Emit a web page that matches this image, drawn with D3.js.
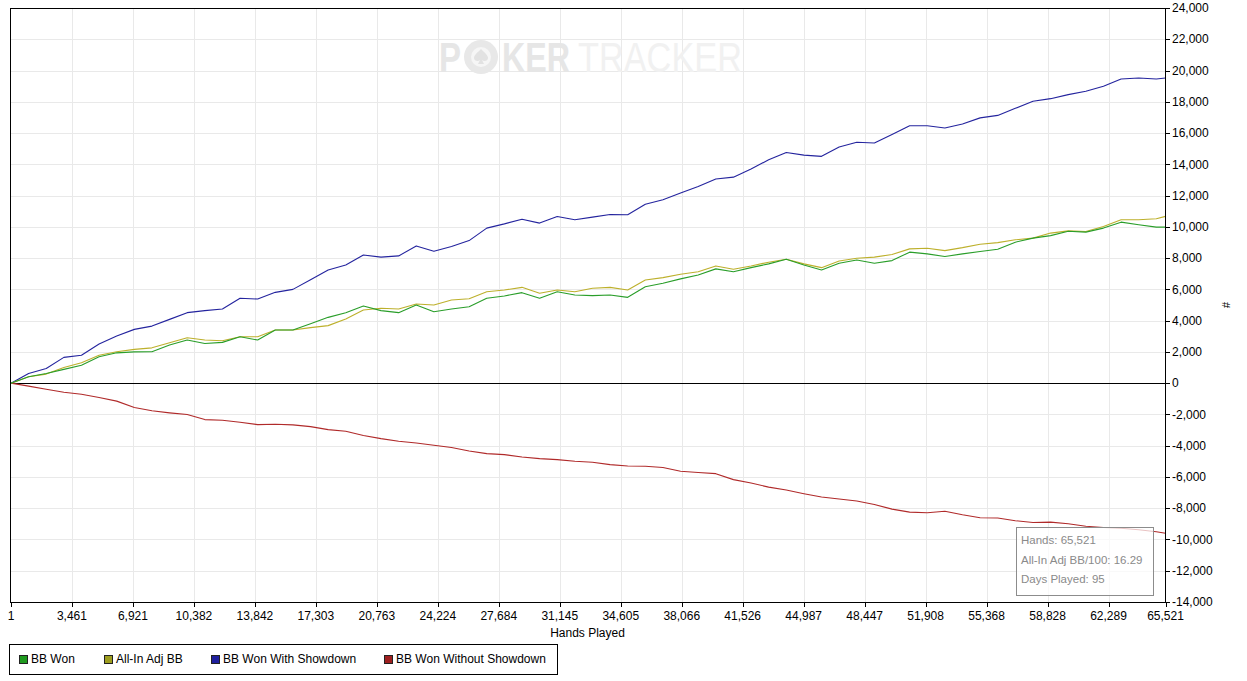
<!DOCTYPE html>
<html>
<head>
<meta charset="utf-8">
<script src="https://cdn.jsdelivr.net/npm/d3@7"></script>
<style>
  html, body { margin: 0; padding: 0; background: #ffffff; }
  svg { display: block; }
  text { font-family: "Liberation Sans", Arial, sans-serif; }
</style>
</head>
<body>
<svg id="chart" width="1247" height="681"></svg>
<script>
// ---------------- DATA ----------------
const hands = [1,1000,2000,3000,4000,5000,6000,7000,8000,9000,10000,11000,12000,13000,14000,15000,16000,17000,18000,19000,
  20000,21000,22000,23000,24000,25000,26000,27000,28000,29000,30000,31000,32000,33000,34000,35000,36000,37000,38000,39000,
  40000,41000,42000,43000,44000,45000,46000,47000,48000,49000,50000,51000,52000,53000,54000,55000,56000,57000,58000,59000,
  60000,61000,62000,63000,64000,65000,65521];

const bbWon = [0,410,620,880,1150,1690,1940,2000,2010,2440,2760,2540,2610,2970,2760,3400,3400,3800,4210,4510,
  4940,4640,4510,5000,4570,4740,4890,5430,5580,5790,5430,5850,5640,5600,5640,5490,6170,6390,6670,6920,
  7310,7130,7390,7630,7930,7560,7240,7670,7880,7670,7840,8380,8270,8100,8270,8420,8570,9020,9280,9440,
  9720,9660,9920,10300,10130,9980,9980];

const allInAdjBB = [0,410,580,1000,1300,1790,2010,2160,2260,2580,2900,2760,2710,2970,2970,3400,3400,3550,3680,4100,
  4680,4790,4740,5060,5000,5320,5400,5850,5960,6130,5750,5960,5850,6070,6130,5960,6600,6750,6970,7130,
  7500,7290,7500,7740,7930,7630,7390,7820,7990,8060,8230,8590,8630,8480,8670,8890,8990,9170,9280,9600,
  9740,9700,10020,10450,10450,10520,10670];

const bbWonShowdown = [0,620,940,1650,1790,2500,3010,3440,3650,4080,4510,4640,4740,5430,5380,5810,6000,6620,7240,7560,
  8200,8060,8140,8780,8440,8740,9120,9920,10190,10490,10240,10660,10450,10620,10790,10770,11450,11730,12160,12580,
  13060,13180,13700,14290,14760,14590,14510,15110,15410,15360,15900,16470,16470,16320,16580,16970,17130,17580,18030,18200,
  18460,18670,18990,19460,19520,19460,19520];

const bbWonNoShowdown = [0,-190,-385,-580,-705,-920,-1150,-1560,-1770,-1900,-2010,-2330,-2370,-2500,-2650,-2630,-2670,-2780,-2970,-3080,
  -3350,-3550,-3720,-3830,-3970,-4120,-4340,-4510,-4570,-4720,-4830,-4890,-5000,-5060,-5210,-5300,-5320,-5400,-5640,-5720,
  -5790,-6170,-6390,-6650,-6840,-7070,-7280,-7410,-7540,-7760,-8060,-8250,-8290,-8190,-8420,-8610,-8630,-8800,-8910,-8890,
  -8990,-9150,-9230,-9280,-9380,-9510,-9600];

const xTicks = [1,3461,6921,10382,13842,17303,20763,24224,27684,31145,34605,38066,41526,44987,48447,51908,55368,58828,62289,65521];
const yTicks = [-14000,-12000,-10000,-8000,-6000,-4000,-2000,0,2000,4000,6000,8000,10000,12000,14000,16000,18000,20000,22000,24000];

const seriesNames = ["BB Won","All-In Adj BB","BB Won With Showdown","BB Won Without Showdown"];
const lineColors = ["#2a9e2a","#bdb02c","#24249e","#b02a2a"];
const legendColors = ["#1f9a1f","#9e9e1f","#1f1f9e","#9e1f1f"];

const infoLines = ["Hands: 65,521","All-In Adj BB/100: 16.29","Days Played: 95"];
const xTitle = "Hands Played";
const yTitle = "#";
const watermarkParts = ["P","KER","TRACKER"];

// ---------------- CHART ----------------
(function () {
const svg = d3.select("#chart");
const fmt = d3.formatLocale({decimal: ".", thousands: ",", grouping: [3], currency: ["", ""], minus: "-"}).format(",");

const pL = 10, pR = 1165, pT = 8, pB = 602;
const x = d3.scaleLinear().domain([1, 65521]).range([11, 1165.5]);
const y = d3.scaleLinear().domain([-14000, 24000]).range([602, 8]);
const px = v => Math.round(v) + 0.5;

// gridlines
const grid = svg.append("g");
grid.selectAll("line.v").data(xTicks.slice(1, -1)).join("line")
  .attr("x1", d => px(x(d))).attr("x2", d => px(x(d)))
  .attr("y1", pT).attr("y2", pB)
  .attr("stroke", "#e9e9e9").attr("stroke-width", 1);
grid.selectAll("line.h").data(yTicks.filter(d => d !== 0)).join("line")
  .attr("x1", pL).attr("x2", pR)
  .attr("y1", d => px(y(d))).attr("y2", d => px(y(d)))
  .attr("stroke", "#e9e9e9").attr("stroke-width", 1);

// watermark: each piece scaled horizontally to its measured width
const wm = svg.append("g");
wm.append("circle").attr("cx", 481).attr("cy", 57).attr("r", 17).attr("fill", "#e8e8e8");
wm.append("circle").attr("cx", 481).attr("cy", 57).attr("r", 10).attr("fill", "#f6f6f6");
wm.append("path")
  .attr("d", "M481,49 C477,53 474,55 474,58 C474,61 478,62 480,60 L478,64 L484,64 L482,60 C484,62 488,61 488,58 C488,55 485,53 481,49 Z")
  .attr("fill", "#e2e2e2");
const wmSpec = [
  {x: 439, w: 22, bold: true, fill: "#e6e6e6"},
  {x: 502, w: 68, bold: true, fill: "#e6e6e6"},
  {x: 578, w: 164, bold: false, fill: "#f1f1f1"}
];
watermarkParts.forEach((t, i) => {
  const s = wmSpec[i];
  const el = wm.append("text").attr("x", 0).attr("y", 0).attr("font-size", 42)
    .attr("font-weight", s.bold ? "bold" : "normal").attr("fill", s.fill).text(t);
  const natural = el.node().getComputedTextLength();
  el.attr("transform", `translate(${s.x},72) scale(${s.w / natural},1)`);
});

// zero line
svg.append("line").attr("x1", pL).attr("x2", pR)
  .attr("y1", px(y(0))).attr("y2", px(y(0)))
  .attr("stroke", "#000").attr("stroke-width", 1);

// series lines
const line = d3.line().x((d, i) => x(hands[i])).y(d => y(d));
const allSeries = [bbWonNoShowdown, bbWonShowdown, allInAdjBB, bbWon];
const allColors = [lineColors[3], lineColors[2], lineColors[1], lineColors[0]];
allSeries.forEach((s, k) => {
  svg.append("path").datum(s).attr("d", line)
    .attr("fill", "none").attr("stroke", allColors[k]).attr("stroke-width", 1.1)
    .attr("stroke-linejoin", "round");
});

// frame
svg.append("rect").attr("x", pL + 0.5).attr("y", pT + 0.5)
  .attr("width", pR - pL).attr("height", pB - pT)
  .attr("fill", "none").attr("stroke", "#000").attr("stroke-width", 1);

// right axis
const ya = svg.append("g");
ya.selectAll("line").data(yTicks).join("line")
  .attr("x1", pR).attr("x2", pR + 5)
  .attr("y1", d => px(y(d))).attr("y2", d => px(y(d)))
  .attr("stroke", "#000");
ya.selectAll("text").data(yTicks).join("text")
  .attr("x", pR + 7).attr("y", d => y(d)).attr("dy", "0.35em")
  .attr("font-size", 12).attr("fill", "#000").text(d => fmt(d));
svg.append("text").attr("transform", "translate(1226,305) rotate(90)")
  .attr("text-anchor", "middle").attr("dy", "0.35em").attr("font-size", 11).text(yTitle);

// bottom axis
const xa = svg.append("g");
xa.selectAll("line").data(xTicks).join("line")
  .attr("x1", d => px(x(d))).attr("x2", d => px(x(d)))
  .attr("y1", pB).attr("y2", pB + 5)
  .attr("stroke", "#000");
xa.selectAll("text").data(xTicks).join("text")
  .attr("x", d => x(d)).attr("y", 619.5).attr("text-anchor", "middle")
  .attr("font-size", 12).attr("fill", "#000").text(d => fmt(d));
svg.append("text").attr("x", (pL + pR) / 2).attr("y", 637)
  .attr("text-anchor", "middle").attr("font-size", 12).text(xTitle);

// info box
const ib = svg.append("g");
ib.append("rect").attr("x", 1016.5).attr("y", 527.5).attr("width", 137).attr("height", 68)
  .attr("fill", "rgba(255,255,255,0.72)").attr("stroke", "#8c8c8c").attr("stroke-width", 1);
ib.selectAll("text").data(infoLines).join("text")
  .attr("x", 1021).attr("y", (d, i) => 544 + i * 19.7)
  .attr("font-family", "'Noto Sans', 'Open Sans', sans-serif")
  .attr("font-size", 11.5).attr("fill", "#8a8a8a").text(d => d);

// legend
const lg = svg.append("g");
lg.append("rect").attr("x", 9.5).attr("y", 644.5).attr("width", 548).attr("height", 30)
  .attr("fill", "#fff").attr("stroke", "#000").attr("stroke-width", 1);
const legendX = [19, 104, 211, 384];
const items = lg.selectAll("g.item").data(seriesNames).join("g")
  .attr("transform", (d, i) => `translate(${legendX[i]},659)`);
items.append("rect").attr("x", 0.5).attr("y", -3.5).attr("width", 8).attr("height", 8)
  .attr("fill", (d, i) => legendColors[i]).attr("stroke", "#222").attr("stroke-width", 1);
items.append("text").attr("x", 12).attr("y", 0).attr("dy", "0.35em")
  .attr("font-size", 12).attr("fill", "#000").text(d => d);
})();
</script>
</body>
</html>
